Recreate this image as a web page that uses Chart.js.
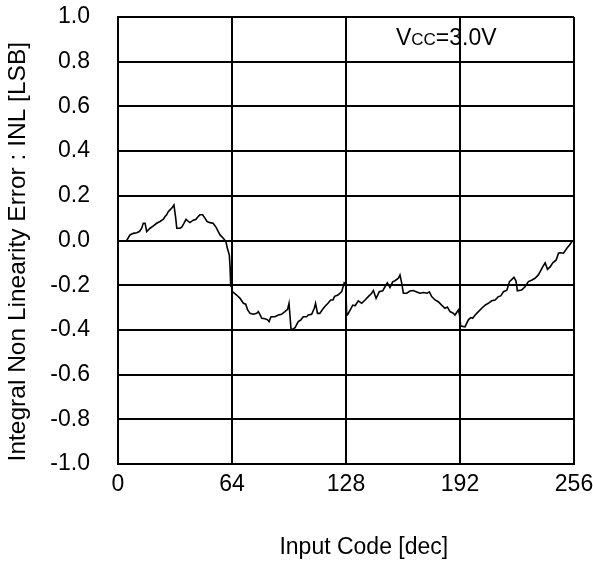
<!DOCTYPE html>
<html>
<head>
<meta charset="utf-8">
<script src="https://cdn.jsdelivr.net/npm/chart.js@4.4.0/dist/chart.umd.min.js"></script>
<style>
html,body{margin:0;padding:0;background:#fff;}
#wrap{width:593px;height:567px;position:relative;}
</style>
</head>
<body>
<div id="wrap"><canvas id="c" width="593" height="567"></canvas></div>
<script>
const xTicks = [0, 64, 128, 192, 256];
const yTicks = [-1.0, -0.8, -0.6, -0.4, -0.2, 0.0, 0.2, 0.4, 0.6, 0.8, 1.0];
const xTitle = 'Input Code [dec]';
const yTitle = 'Integral Non Linearity Error : INL [LSB]';
const codes = [4.9, 6.7, 8.6, 10.5, 12, 13.3, 14.2, 15.2, 16.1, 18, 19.9, 21.7, 23.6, 25.5, 26.4, 27.3, 28.3, 29.2, 30.2, 31.4, 32.4, 33, 34.8, 35.8, 37, 38.2, 39.5, 40.4, 42, 43.8, 45, 46, 47.5, 48.8, 50, 51.6, 53.4, 55, 56.3, 57.3, 59.1, 60.6, 61.4, 62.5, 62.9, 63.3, 63.8, 64.2, 66.6, 68.5, 70.4, 71.7, 72.8, 74.1, 76, 77.9, 78.8, 79.8, 80.7, 82.6, 84, 84.8, 85.9, 88.1, 90, 91.8, 93.7, 95.2, 96, 97.1, 97.5, 99.4, 101.2, 102.7, 104, 105.9, 106.8, 108.7, 110.2, 110.9, 112, 113.3, 114.6, 116, 117.9, 119.4, 120.7, 121.6, 123.5, 125.6, 127, 127.8, 128.4, 128.8, 130.3, 131.8, 133.1, 134.9, 136.8, 138.7, 140.5, 142.4, 143.4, 144.9, 146.7, 148.6, 149.9, 151.2, 152.7, 154.2, 155.5, 157.4, 158.3, 159.3, 160.2, 162.1, 163.9, 165.8, 167.7, 169.5, 171.4, 173.6, 174.8, 176.1, 178, 179.8, 181.7, 183.6, 184.9, 186.4, 188.3, 189.2, 190.5, 191.1, 191.7, 192.4, 194.8, 196.7, 198, 199.1, 200.5, 202.3, 204.2, 206.1, 207.9, 209.8, 211.7, 213.5, 214.9, 216.4, 218.3, 219.8, 222.3, 223.4, 224.2, 226.6, 228.5, 230.4, 232.2, 234.1, 236, 237, 238.5, 239.8, 241.1, 242.6, 244.1, 246, 247.3, 248.2, 250.1, 252, 253.5, 255.3];
const inl = [0.0, 0.025, 0.032, 0.035, 0.04, 0.055, 0.077, 0.077, 0.04, 0.055, 0.065, 0.077, 0.085, 0.095, 0.107, 0.115, 0.13, 0.137, 0.145, 0.159, 0.1, 0.055, 0.055, 0.06, 0.077, 0.095, 0.085, 0.08, 0.09, 0.095, 0.107, 0.115, 0.115, 0.1, 0.085, 0.08, 0.077, 0.06, 0.04, 0.025, 0.01, -0.005, -0.035, -0.065, -0.117, -0.207, -0.177, -0.229, -0.244, -0.259, -0.281, -0.285, -0.311, -0.326, -0.33, -0.326, -0.318, -0.333, -0.348, -0.35, -0.355, -0.363, -0.341, -0.341, -0.333, -0.33, -0.318, -0.308, -0.281, -0.393, -0.4, -0.39, -0.363, -0.355, -0.341, -0.341, -0.333, -0.33, -0.303, -0.281, -0.326, -0.326, -0.311, -0.296, -0.281, -0.266, -0.266, -0.25, -0.244, -0.229, -0.189, -0.195, -0.333, -0.333, -0.311, -0.289, -0.292, -0.27, -0.281, -0.266, -0.251, -0.236, -0.224, -0.259, -0.229, -0.225, -0.207, -0.189, -0.21, -0.185, -0.18, -0.169, -0.154, -0.192, -0.236, -0.236, -0.226, -0.224, -0.23, -0.236, -0.233, -0.236, -0.23, -0.251, -0.266, -0.274, -0.289, -0.303, -0.298, -0.318, -0.326, -0.333, -0.318, -0.311, -0.33, -0.383, -0.386, -0.355, -0.345, -0.348, -0.333, -0.318, -0.303, -0.289, -0.281, -0.27, -0.266, -0.251, -0.248, -0.229, -0.222, -0.184, -0.165, -0.18, -0.225, -0.222, -0.207, -0.184, -0.178, -0.169, -0.154, -0.139, -0.117, -0.1, -0.129, -0.118, -0.1, -0.087, -0.057, -0.055, -0.057, -0.035, -0.02, 0.0];
const annotation = { main: "V", sub: "CC", rest: "=3.0V", code: 156, value: 0.875 };

const points = codes.map((c, i) => ({ x: c, y: inl[i] }));
const FONT = "'Liberation Sans', Arial, sans-serif";

const textPlugin = {
  id: 'texts',
  afterDraw(chart) {
    const ctx = chart.ctx;
    const xs = chart.scales.x, ys = chart.scales.y;
    ctx.save();
    ctx.fillStyle = '#000';
    // annotation V_CC=3.0V
    let x = xs.getPixelForValue(annotation.code);
    const y = ys.getPixelForValue(annotation.value);
    ctx.textBaseline = 'alphabetic';
    ctx.textAlign = 'left';
    ctx.font = '23px ' + FONT;
    ctx.fillText(annotation.main, x, y);
    x += ctx.measureText(annotation.main).width;
    ctx.font = '17px ' + FONT;
    ctx.fillText(annotation.sub, x, y);
    x += ctx.measureText(annotation.sub).width;
    ctx.font = '23px ' + FONT;
    ctx.fillText(annotation.rest, x, y);
    // axis titles
    ctx.textAlign = 'center';
    ctx.textBaseline = 'middle';
    ctx.font = '23px ' + FONT;
    ctx.fillText(xTitle, xs.getPixelForValue(138), 548);
    ctx.translate(18, ys.getPixelForValue(-0.05));
    ctx.rotate(-Math.PI / 2);
    ctx.font = '24.5px ' + FONT;
    ctx.fillText(yTitle, 0, 0);
    ctx.restore();
  }
};

new Chart(document.getElementById('c'), {
  type: 'line',
  data: {
    datasets: [{
      data: points,
      borderColor: '#000',
      borderWidth: 1.6,
      pointRadius: 0,
      tension: 0,
      fill: false
    }]
  },
  options: {
    responsive: false,
    animation: false,
    events: [],
    layout: { padding: { top: 17, right: 19, left: 0, bottom: 0 } },
    plugins: { legend: { display: false }, tooltip: { enabled: false } },
    scales: {
      x: {
        type: 'linear',
        min: 0, max: 256,
        afterBuildTicks(s) { s.ticks = xTicks.map(v => ({ value: v })); },
        afterFit(s) { s.height = 103; s.paddingLeft = 0; s.paddingRight = 0; },
        grid: { color: '#000', lineWidth: 2, drawTicks: false },
        border: { color: '#000', width: 2 },
        ticks: { color: '#000', font: { family: FONT, size: 23 }, padding: 7, maxRotation: 0 }
      },
      y: {
        type: 'linear',
        min: -1, max: 1,
        afterBuildTicks(s) { s.ticks = yTicks.map(v => ({ value: v })); },
        afterFit(s) { s.width = 118; s.paddingTop = 0; s.paddingBottom = 0; },
        grid: { color: '#000', lineWidth: 2, drawTicks: false },
        border: { color: '#000', width: 2 },
        ticks: { color: '#000', font: { family: FONT, size: 23 }, padding: 28, callback: v => v.toFixed(1) }
      }
    }
  },
  plugins: [textPlugin]
});
</script>
</body>
</html>
